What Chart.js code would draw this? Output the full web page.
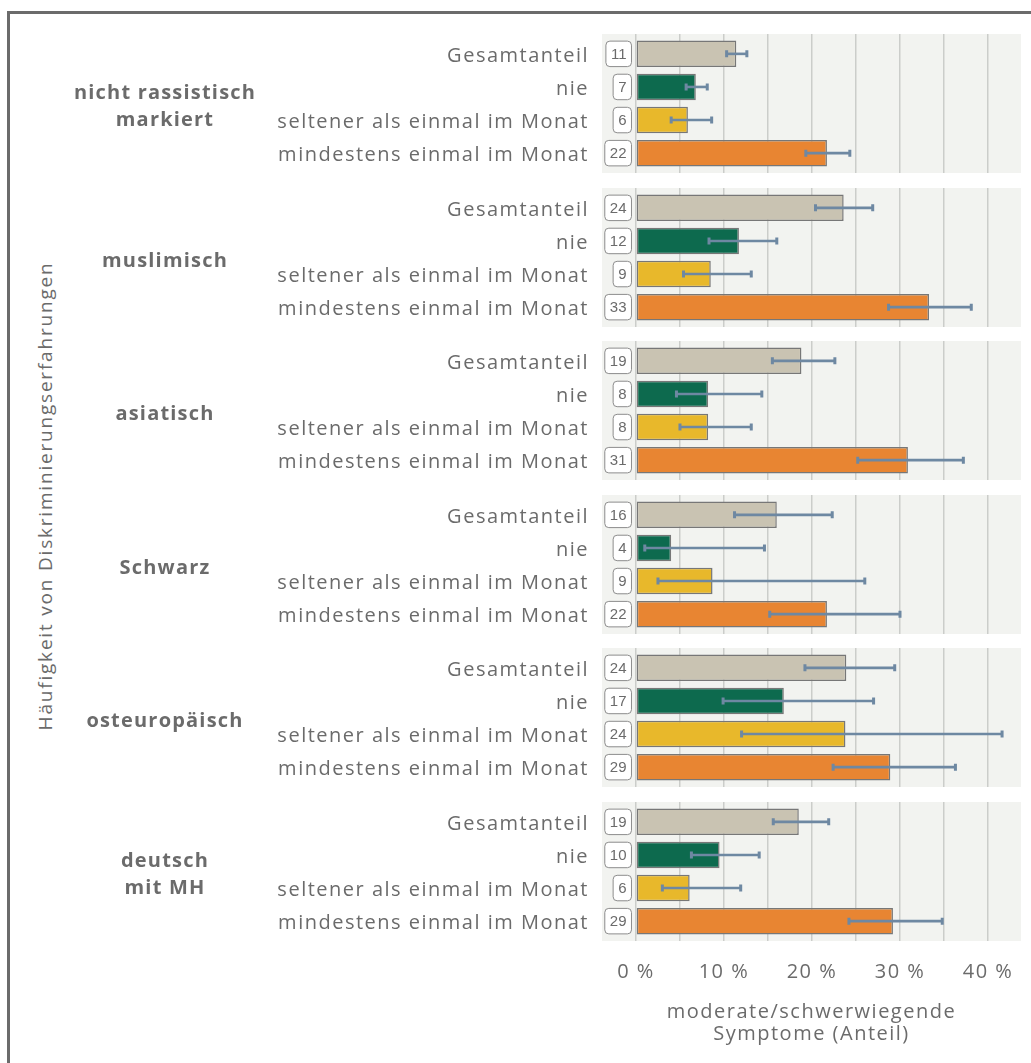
<!DOCTYPE html>
<html lang="de">
<head>
<meta charset="utf-8">
<title>Moderate/schwerwiegende Symptome nach Diskriminierungserfahrungen</title>
<script src="https://cdn.jsdelivr.net/npm/chart.js@4.4.1/dist/chart.umd.min.js"></script>
<style>
  html, body { margin: 0; padding: 0; background: #fff; }
  body { width: 1031px; height: 1063px; position: relative; overflow: hidden; font-family: "Open Sans", sans-serif; }
  #frame { position: absolute; left: 7px; top: 11px; width: 1100px; height: 1100px;
           border-top: 3px solid #6b6b6b; border-left: 3px solid #6b6b6b; }
  .panel { position: absolute; left: 0; width: 1031px; }
  #ytitle { position: absolute; left: 45px; top: 496px; transform: translate(-50%, -50%) rotate(-90deg);
            white-space: nowrap; font-size: 19px; letter-spacing: 1.8px; color: #6b6b6b; }
</style>
</head>
<body>
<div id="frame"></div>
<div id="ytitle">Häufigkeit von Diskriminierungserfahrungen</div>
<div id="panels"></div>
<script>
// groups (one panel each) and the four rows inside every panel
const groupLabels = [
  ['nicht rassistisch', 'markiert'],
  ['muslimisch'],
  ['asiatisch'],
  ['Schwarz'],
  ['osteuropäisch'],
  ['deutsch', 'mit MH']
];
const categories = ['Gesamtanteil', 'nie', 'seltener als einmal im Monat', 'mindestens einmal im Monat'];

// share with moderate/severe symptoms in %, per group and row
const shares = [
  [11.4, 6.8, 5.9, 21.7],
  [23.6, 11.7, 8.5, 33.3],
  [18.8, 8.2, 8.2, 30.9],
  [16.0, 4.0, 8.7, 21.7],
  [23.9, 16.8, 23.8, 28.9],
  [18.5, 9.5, 6.1, 29.2]
];
// confidence interval bounds
const ciLow = [
  [10.3, 5.7, 4.0, 19.3],
  [20.4, 8.3, 5.4, 28.7],
  [15.5, 4.6, 5.0, 25.2],
  [11.2, 1.0, 2.5, 15.2],
  [19.2, 9.9, 12.0, 22.4],
  [15.6, 6.3, 3.0, 24.2]
];
const ciHigh = [
  [12.6, 8.1, 8.6, 24.3],
  [26.9, 16.0, 13.1, 38.1],
  [22.6, 14.3, 13.1, 37.2],
  [22.3, 14.6, 26.0, 30.0],
  [29.4, 27.0, 41.6, 36.3],
  [21.9, 14.0, 11.9, 34.8]
];
const xTicks = [0, 5, 10, 15, 20, 25, 30, 35, 40];
const xTitle = ['moderate/schwerwiegende', 'Symptome (Anteil)'];

const barColors = ['#c9c3b2', '#0d6a4e', '#e8b82b', '#e88532'];
const textColor = '#6b6b6b';
const FONT = '"Open Sans", sans-serif';

const PANEL_TOP = 34;
const PANEL_STEP = 153.6;
const PANEL_H = 139;
const AXIS_H = 107;

/*
############################## Plugins ##############################
*/
const panelBackground = {
  id: 'panelBackground',
  beforeDraw(chart) {
    const { ctx, chartArea: a } = chart;
    ctx.letterSpacing = '1.5px';
    ctx.save();
    ctx.fillStyle = '#f2f3f0';
    ctx.fillRect(a.left, a.top, a.right - a.left, a.bottom - a.top);
    ctx.restore();
  }
};

const groupTitle = {
  id: 'groupTitle',
  afterDraw(chart, args, opts) {
    const { ctx, chartArea: a } = chart;
    const lines = opts.lines || [];
    const lh = 27;
    const mid = (a.top + a.bottom) / 2 + 3.5;
    ctx.save();
    ctx.letterSpacing = '1.2px';
    ctx.font = 'bold 20px ' + FONT;
    ctx.fillStyle = textColor;
    ctx.textAlign = 'center';
    ctx.textBaseline = 'middle';
    lines.forEach((line, i) => {
      ctx.fillText(line, 165, mid + (i - (lines.length - 1) / 2) * lh);
    });
    ctx.restore();
  }
};

const errorBarsAndValues = {
  id: 'errorBarsAndValues',
  afterDatasetsDraw(chart, args, opts) {
    const { ctx } = chart;
    const xScale = chart.scales.x;
    const meta = chart.getDatasetMeta(0);
    const values = chart.data.datasets[0].data;
    const zero = xScale.getPixelForValue(0);

    meta.data.forEach((bar, i) => {
      const y = bar.y;
      const h = bar.height;

      // error bar
      const x0 = xScale.getPixelForValue(opts.low[i]);
      const x1 = xScale.getPixelForValue(opts.high[i]);
      ctx.save();
      ctx.strokeStyle = '#6e88a2';
      ctx.lineWidth = 2.6;
      ctx.beginPath();
      ctx.moveTo(x0, y);
      ctx.lineTo(x1, y);
      ctx.stroke();
      ctx.lineWidth = 3;
      ctx.beginPath();
      ctx.moveTo(x0, y - 3.5); ctx.lineTo(x0, y + 3.5);
      ctx.moveTo(x1, y - 3.5); ctx.lineTo(x1, y + 3.5);
      ctx.stroke();
      ctx.restore();

      // rounded value box left of the zero line
      const label = String(Math.round(values[i].x));
      ctx.save();
      ctx.letterSpacing = '0px';
      ctx.font = '15px "Liberation Sans", Arial, sans-serif';
      const w = ctx.measureText(label).width + 11;
      const right = zero - 4;
      ctx.beginPath();
      ctx.roundRect(right - w + 0.5, y - h / 2 + 0.5, w - 1, h - 1, 4);
      ctx.fillStyle = '#ffffff';
      ctx.fill();
      ctx.strokeStyle = '#8c8c8c';
      ctx.lineWidth = 1;
      ctx.stroke();
      ctx.fillStyle = textColor;
      ctx.textAlign = 'center';
      ctx.textBaseline = 'middle';
      ctx.fillText(label, right - w / 2, y + 1);
      ctx.restore();
    });
  }
};

// keep tick labels from pushing the plot area inwards
function no_padding(scale) {
  scale.paddingTop = 0;
  scale.paddingBottom = 0;
  scale.paddingLeft = 0;
  scale.paddingRight = 0;
}

/*
############################## Panels ##############################
*/
function draw_panel(index) {
  const last = index === groupLabels.length - 1;
  const wrap = document.createElement('div');
  wrap.className = 'panel';
  wrap.style.top = (PANEL_TOP + index * PANEL_STEP) + 'px';
  wrap.style.height = (PANEL_H + (last ? AXIS_H : 0)) + 'px';
  const canvas = document.createElement('canvas');
  wrap.appendChild(canvas);
  document.getElementById('panels').appendChild(wrap);

  return new Chart(canvas, {
    type: 'bar',
    plugins: [panelBackground, groupTitle, errorBarsAndValues],
    data: {
      datasets: [{
        data: shares[index].map((v, i) => ({ x: v, y: i })),
        backgroundColor: barColors,
        borderColor: '#777777',
        borderWidth: 1.5,
        borderSkipped: false,
        barPercentage: 0.8,
        categoryPercentage: 1
      }]
    },
    options: {
      indexAxis: 'y',
      responsive: true,
      maintainAspectRatio: false,
      animation: false,
      events: [],
      layout: { padding: { left: 0, right: 10, top: 0, bottom: 0 }, autoPadding: false },
      scales: {
        x: {
          type: 'linear',
          offset: false,
          min: -3.86,
          max: 43.75,
          afterBuildTicks: scale => { scale.ticks = xTicks.map(v => ({ value: v })); },
          afterFit: scale => {
            no_padding(scale);
            scale.height = last ? AXIS_H : 0;
          },
          grid: { color: '#cbcdca', lineWidth: 1.5, drawTicks: false },
          border: { display: false },
          ticks: {
            display: last,
            padding: 19,
            color: textColor,
            font: { family: FONT, size: 20 },
            maxRotation: 0,
            autoSkip: false,
            callback: v => (v % 10 === 0 ? v + ' %' : '')
          },
          title: {
            display: last,
            text: xTitle,
            color: textColor,
            font: { family: FONT, size: 20, lineHeight: 1.1 },
            padding: { top: 17, bottom: 3 }
          }
        },
        y: {
          type: 'linear',
          offset: false,
          reverse: true,
          min: -0.6,
          max: 3.6,
          afterBuildTicks: scale => { scale.ticks = categories.map((c, i) => ({ value: i })); },
          afterFit: scale => {
            no_padding(scale);
            scale.width = 602;
          },
          grid: { display: false, drawTicks: false },
          border: { display: false },
          ticks: {
            padding: 13,
            labelOffset: 2,
            color: textColor,
            font: { family: FONT, size: 20 },
            autoSkip: false,
            callback: v => categories[v]
          }
        }
      },
      plugins: {
        legend: { display: false },
        tooltip: { enabled: false },
        groupTitle: { lines: groupLabels[index] },
        errorBarsAndValues: { low: ciLow[index], high: ciHigh[index] }
      }
    }
  });
}

function draw_all_panels() {
  groupLabels.forEach((g, i) => draw_panel(i));
}

draw_all_panels();
</script>
</body>
</html>
